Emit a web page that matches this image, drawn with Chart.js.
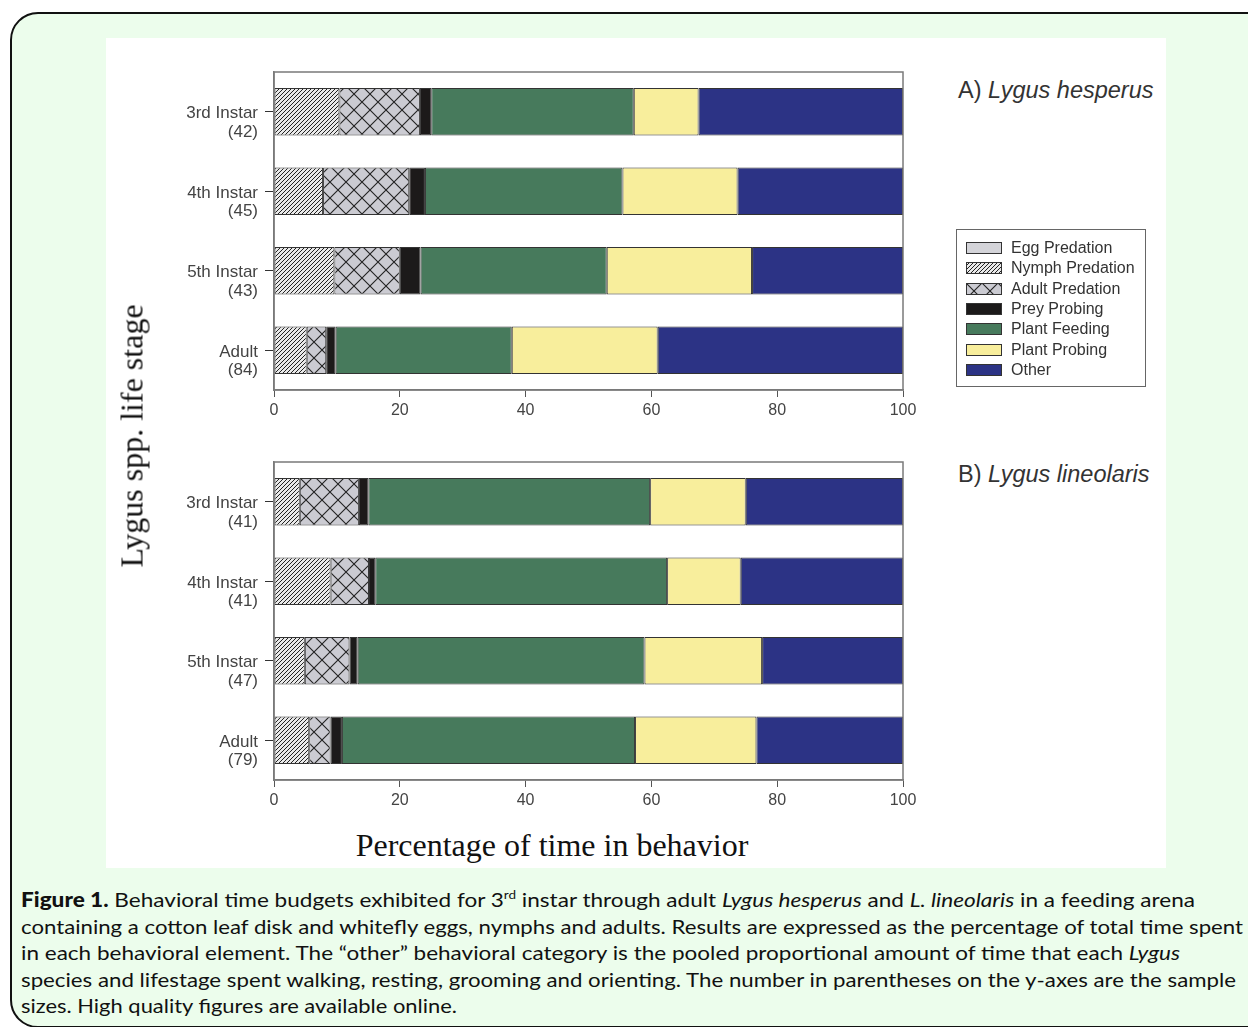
<!DOCTYPE html>
<html>
<head>
<meta charset="utf-8">
<script src="https://cdn.jsdelivr.net/npm/chart.js@4.4.0/dist/chart.umd.min.js"></script>
<style>
html, body { margin:0; padding:0; width:1248px; height:1027px; overflow:hidden; background:#fff; font-family:"Liberation Sans", Arial, sans-serif; }
#marco { position:absolute; left:10px; top:12px; width:1262px; height:1012px; border:2px solid #111; border-radius:28px; background:#ecfdec; }
#panel { position:absolute; left:106px; top:38px; width:1060px; height:830px; background:#fff; }
canvas.grafico { position:absolute; left:106px; }
#grafA { top:38px; }
#grafB { top:428px; }
.titulo { position:absolute; left:958px; font-size:23.5px; color:#333; white-space:nowrap; line-height:26px; }
.serif { font-family:"Liberation Serif","Times New Roman",serif; font-size:32px; color:#111; white-space:nowrap; position:absolute; }
#ejeY { left:132px; top:436px; transform:translate(-50%,-50%) rotate(-90deg); }
#ejeX { left:552px; top:845px; transform:translate(-50%,-50%); }
#leyenda { position:absolute; left:956px; top:229px; width:188px; height:156px; border:1px solid #666; background:#fff; }
.fila { position:absolute; left:9px; height:20px; display:flex; align-items:center; font-size:16px; color:#333; white-space:nowrap; }
.fila canvas { margin-right:9px; }
#pie { position:absolute; left:21px; top:886px; font-family:Lato, "Open Sans", sans-serif; font-size:20px; color:#111; }
#pie .linea { display:block; height:26.5px; line-height:26.5px; white-space:nowrap; }
#pie .linea span.in { display:inline-block; transform-origin:left center; }
#pie sup { font-size:12px; vertical-align:8px; line-height:0; }
</style>
</head>
<body>
<div id="marco"></div>
<div id="panel"></div>
<canvas id="grafA" class="grafico" width="830" height="392"></canvas>
<canvas id="grafB" class="grafico" width="830" height="392"></canvas>
<div class="titulo" style="top:77px;">A) <i>Lygus hesperus</i></div>
<div class="titulo" style="top:461px;">B) <i>Lygus lineolaris</i></div>
<div id="ejeY" class="serif">Lygus spp. life stage</div>
<div id="ejeX" class="serif">Percentage of time in behavior</div>
<div id="leyenda"></div>
<div id="pie">
  <div class="linea"><span class="in" data-w="1174"><b style="font-weight:900;">Figure 1.</b> Behavioral time budgets exhibited for 3<sup>rd</sup> instar through adult <i>Lygus hesperus</i> and <i>L. lineolaris</i> in a feeding arena</span></div>
  <div class="linea"><span class="in" data-w="1222">containing a cotton leaf disk and whitefly eggs, nymphs and adults. Results are expressed as the percentage of total time spent</span></div>
  <div class="linea"><span class="in" data-w="1159">in each behavioral element. The “other” behavioral category is the pooled proportional amount of time that each <i>Lygus</i></span></div>
  <div class="linea"><span class="in" data-w="1215">species and lifestage spent walking, resting, grooming and orienting. The number in parentheses on the y-axes are the sample</span></div>
  <div class="linea"><span class="in" data-w="436">sizes. High quality figures are available online.</span></div>
</div>
<script>
// Etapas (con tamaño de muestra)
const etapasHesperus = [['3rd Instar', '(42)'], ['4th Instar', '(45)'], ['5th Instar', '(43)'], ['Adult', '(84)']];
const etapasLineolaris = [['3rd Instar', '(41)'], ['4th Instar', '(41)'], ['5th Instar', '(47)'], ['Adult', '(79)']];
const conductas = ['Egg Predation', 'Nymph Predation', 'Adult Predation', 'Prey Probing', 'Plant Feeding', 'Plant Probing', 'Other'];
const ticksX = [0, 20, 40, 60, 80, 100];

// A) Lygus hesperus (% del tiempo)
const huevoA    = [0, 0, 0, 0];
const ninfaA    = [10.4, 7.8, 9.6, 5.2];
const adultoA   = [12.8, 13.7, 10.4, 3.1];
const presaA    = [1.8, 2.5, 3.3, 1.5];
const alimentA  = [32.2, 31.4, 29.6, 28.0];
const sondeoA   = [10.3, 18.3, 23.1, 23.2];
const otroA     = [32.5, 26.3, 24.0, 39.0];

// B) Lygus lineolaris
const huevoB    = [0, 0, 0, 0];
const ninfaB    = [4.1, 9.0, 4.9, 5.6];
const adultoB   = [9.4, 6.1, 7.1, 3.4];
const presaB    = [1.5, 1.0, 1.3, 1.8];
const alimentB  = [44.8, 46.4, 45.6, 46.6];
const sondeoB   = [15.2, 11.7, 18.7, 19.3];
const otroB     = [25.0, 25.8, 22.4, 23.3];

// Tramas
function tramaRayada() {
    const c = document.createElement('canvas');
    c.width = 4; c.height = 4;
    const g = c.getContext('2d');
    g.fillStyle = '#e9e9e9';
    g.fillRect(0, 0, 4, 4);
    g.strokeStyle = '#222';
    g.lineWidth = 1;
    g.beginPath();
    g.moveTo(0, 4); g.lineTo(4, 0);
    g.moveTo(-1, 1); g.lineTo(1, -1);
    g.moveTo(3, 5); g.lineTo(5, 3);
    g.stroke();
    return g.createPattern(c, 'repeat');
}

function tramaCruzada() {
    const c = document.createElement('canvas');
    c.width = 16; c.height = 16;
    const g = c.getContext('2d');
    g.fillStyle = '#cbcbd2';
    g.fillRect(0, 0, 16, 16);
    g.strokeStyle = '#222';
    g.lineWidth = 1.1;
    g.beginPath();
    g.moveTo(0, 0); g.lineTo(16, 16);
    g.moveTo(16, 0); g.lineTo(0, 16);
    g.stroke();
    return g.createPattern(c, 'repeat');
}

const rellenos = ['#d4d4d9', tramaRayada(), tramaCruzada(), '#1c1a1a', '#477a5c', '#f8ee9c', '#2c3385'];

const marcoArea = {
    id: 'marcoArea',
    afterDatasetsDraw(chart) {
        const a = chart.chartArea;
        const ctx = chart.ctx;
        ctx.save();
        ctx.strokeStyle = '#7a7a7a';
        ctx.lineWidth = 1.5;
        ctx.strokeRect(a.left, a.top, a.right - a.left, a.bottom - a.top);
        ctx.restore();
    }
};

function crearGrafico(id, etapas, series) {
    const ctx = document.getElementById(id).getContext('2d');
    return new Chart(ctx, {
        type: 'bar',
        data: {
            labels: etapas,
            datasets: conductas.map((nombre, i) => ({
                label: nombre,
                data: series[i],
                backgroundColor: rellenos[i],
                borderColor: '#333',
                borderWidth: 1,
                borderSkipped: false,
                barPercentage: 0.6,
                categoryPercentage: 1
            }))
        },
        options: {
            indexAxis: 'y',
            responsive: false,
            animation: false,
            devicePixelRatio: 1,
            layout: { padding: { top: 34, right: 33, left: 0, bottom: 0 } },
            plugins: {
                legend: { display: false },
                tooltip: { enabled: false }
            },
            scales: {
                x: {
                    stacked: true,
                    min: 0,
                    max: 100,
                    afterBuildTicks: (scale) => { scale.ticks = ticksX.map(v => ({ value: v })); },
                    afterFit: (scale) => { scale.height = 40; },
                    ticks: {
                        color: '#444',
                        padding: 4,
                        font: { size: 16, family: "'Liberation Sans', Arial, sans-serif" }
                    },
                    grid: { drawOnChartArea: false, drawTicks: true, tickLength: 7, tickColor: '#555' },
                    border: { display: true, color: '#7a7a7a', width: 1.5 }
                },
                y: {
                    stacked: true,
                    afterFit: (scale) => { scale.width = 168; },
                    ticks: {
                        color: '#444',
                        padding: 7,
                        labelOffset: 11,
                        font: { size: 17, lineHeight: 1.1, family: "'Liberation Sans', Arial, sans-serif" }
                    },
                    grid: { offset: false, drawOnChartArea: false, drawTicks: true, tickLength: 9, tickColor: '#333' },
                    border: { display: true, color: '#7a7a7a', width: 1.5 }
                }
            }
        },
        plugins: [marcoArea]
    });
}

crearGrafico('grafA', etapasHesperus, [huevoA, ninfaA, adultoA, presaA, alimentA, sondeoA, otroA]);
crearGrafico('grafB', etapasLineolaris, [huevoB, ninfaB, adultoB, presaB, alimentB, sondeoB, otroB]);

// Leyenda
const leyenda = document.getElementById('leyenda');
conductas.forEach((nombre, i) => {
    const fila = document.createElement('div');
    fila.className = 'fila';
    fila.style.top = (8 + i * 20.3) + 'px';
    const m = document.createElement('canvas');
    m.width = 36; m.height = 12;
    const g = m.getContext('2d');
    g.fillStyle = rellenos[i];
    g.fillRect(0, 0, 36, 12);
    g.strokeStyle = '#333';
    g.lineWidth = 1;
    g.strokeRect(0.5, 0.5, 35, 11);
    fila.appendChild(m);
    fila.appendChild(document.createTextNode(nombre));
    leyenda.appendChild(fila);
});

// Ajustar ancho de las líneas del pie
document.querySelectorAll('#pie span.in').forEach(s => {
    const w = s.getBoundingClientRect().width;
    const meta = parseFloat(s.dataset.w);
    s.style.transform = 'scaleX(' + (meta / w).toFixed(4) + ')';
});
</script>
</body>
</html>
